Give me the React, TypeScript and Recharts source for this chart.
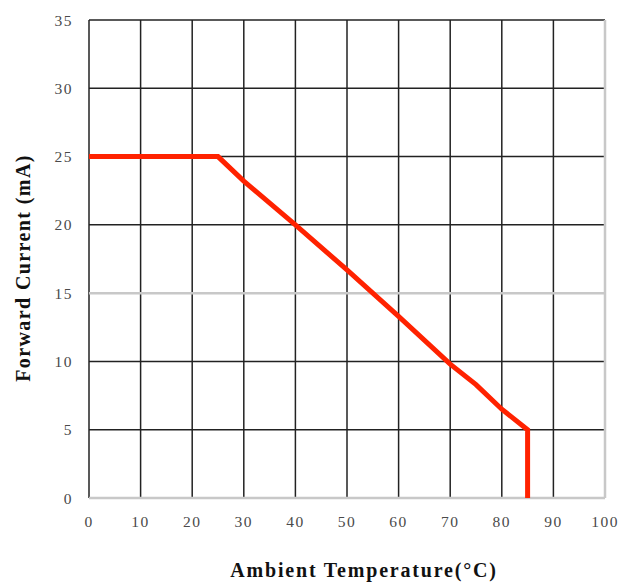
import React from 'react';
import { LineChart, Line, XAxis, YAxis, CartesianGrid, ReferenceLine, Label } from 'recharts';

const temperature = [0, 25, 30, 40, 50, 60, 70, 75, 80, 85, 85];
const current = [25, 25, 23.2, 20, 16.7, 13.3, 9.8, 8.3, 6.5, 5, 0];
const xTicks = [0, 10, 20, 30, 40, 50, 60, 70, 80, 90, 100];
const yTicks = [0, 5, 10, 15, 20, 25, 30, 35];

const data = temperature.map((t, i) => ({ t, i: current[i] }));

const serif = '"Liberation Serif", "DejaVu Serif", serif';
const tickStyle = { fontFamily: serif, fontSize: 15.5, fill: '#4a4a4a', letterSpacing: 1.5 };

const App: React.FC = () => {
  return (
    <div style={{ position: 'absolute', left: 0, top: 0, width: 621, height: 583, background: '#fff' }}>
      <LineChart width={621} height={583} data={data} margin={{ top: 20, right: 16, left: 0, bottom: 0 }}>
        <CartesianGrid stroke="#222" strokeWidth={1.5} />
        <ReferenceLine y={15} stroke="#c8c8c8" strokeWidth={2.5} />
        <ReferenceLine y={0} stroke="#c8c8c8" strokeWidth={2.5} />
        <ReferenceLine x={100} stroke="#c8c8c8" strokeWidth={2.5} />
        <XAxis
          dataKey="t"
          type="number"
          domain={[0, 100]}
          ticks={xTicks}
          axisLine={false}
          tickLine={false}
          tickSize={0}
          tickMargin={18}
          height={85}
          tick={tickStyle}
          interval={0}
        >
          <Label
            content={() => (
              <text
                x={364}
                y={577}
                textAnchor="middle"
                fontFamily={serif}
                fontWeight="bold"
                fontSize={20}
                letterSpacing={1.8}
                fill="#111"
              >
                Ambient Temperature(°C)
              </text>
            )}
          />
        </XAxis>
        <YAxis
          type="number"
          domain={[0, 35]}
          ticks={yTicks}
          axisLine={false}
          tickLine={false}
          tickSize={0}
          tickMargin={16}
          width={89}
          tick={tickStyle}
          interval={0}
        >
          <Label
            content={() => (
              <text
                x={0}
                y={0}
                transform="translate(30, 268) rotate(-90)"
                textAnchor="middle"
                fontFamily={serif}
                fontWeight="bold"
                fontSize={20}
                letterSpacing={1.4}
                fill="#111"
              >
                Forward Current (mA)
              </text>
            )}
          />
        </YAxis>
        <Line
          dataKey="i"
          type="linear"
          stroke="#ff2200"
          strokeWidth={5}
          dot={false}
          isAnimationActive={false}
        />
      </LineChart>
    </div>
  );
};

export default App;
